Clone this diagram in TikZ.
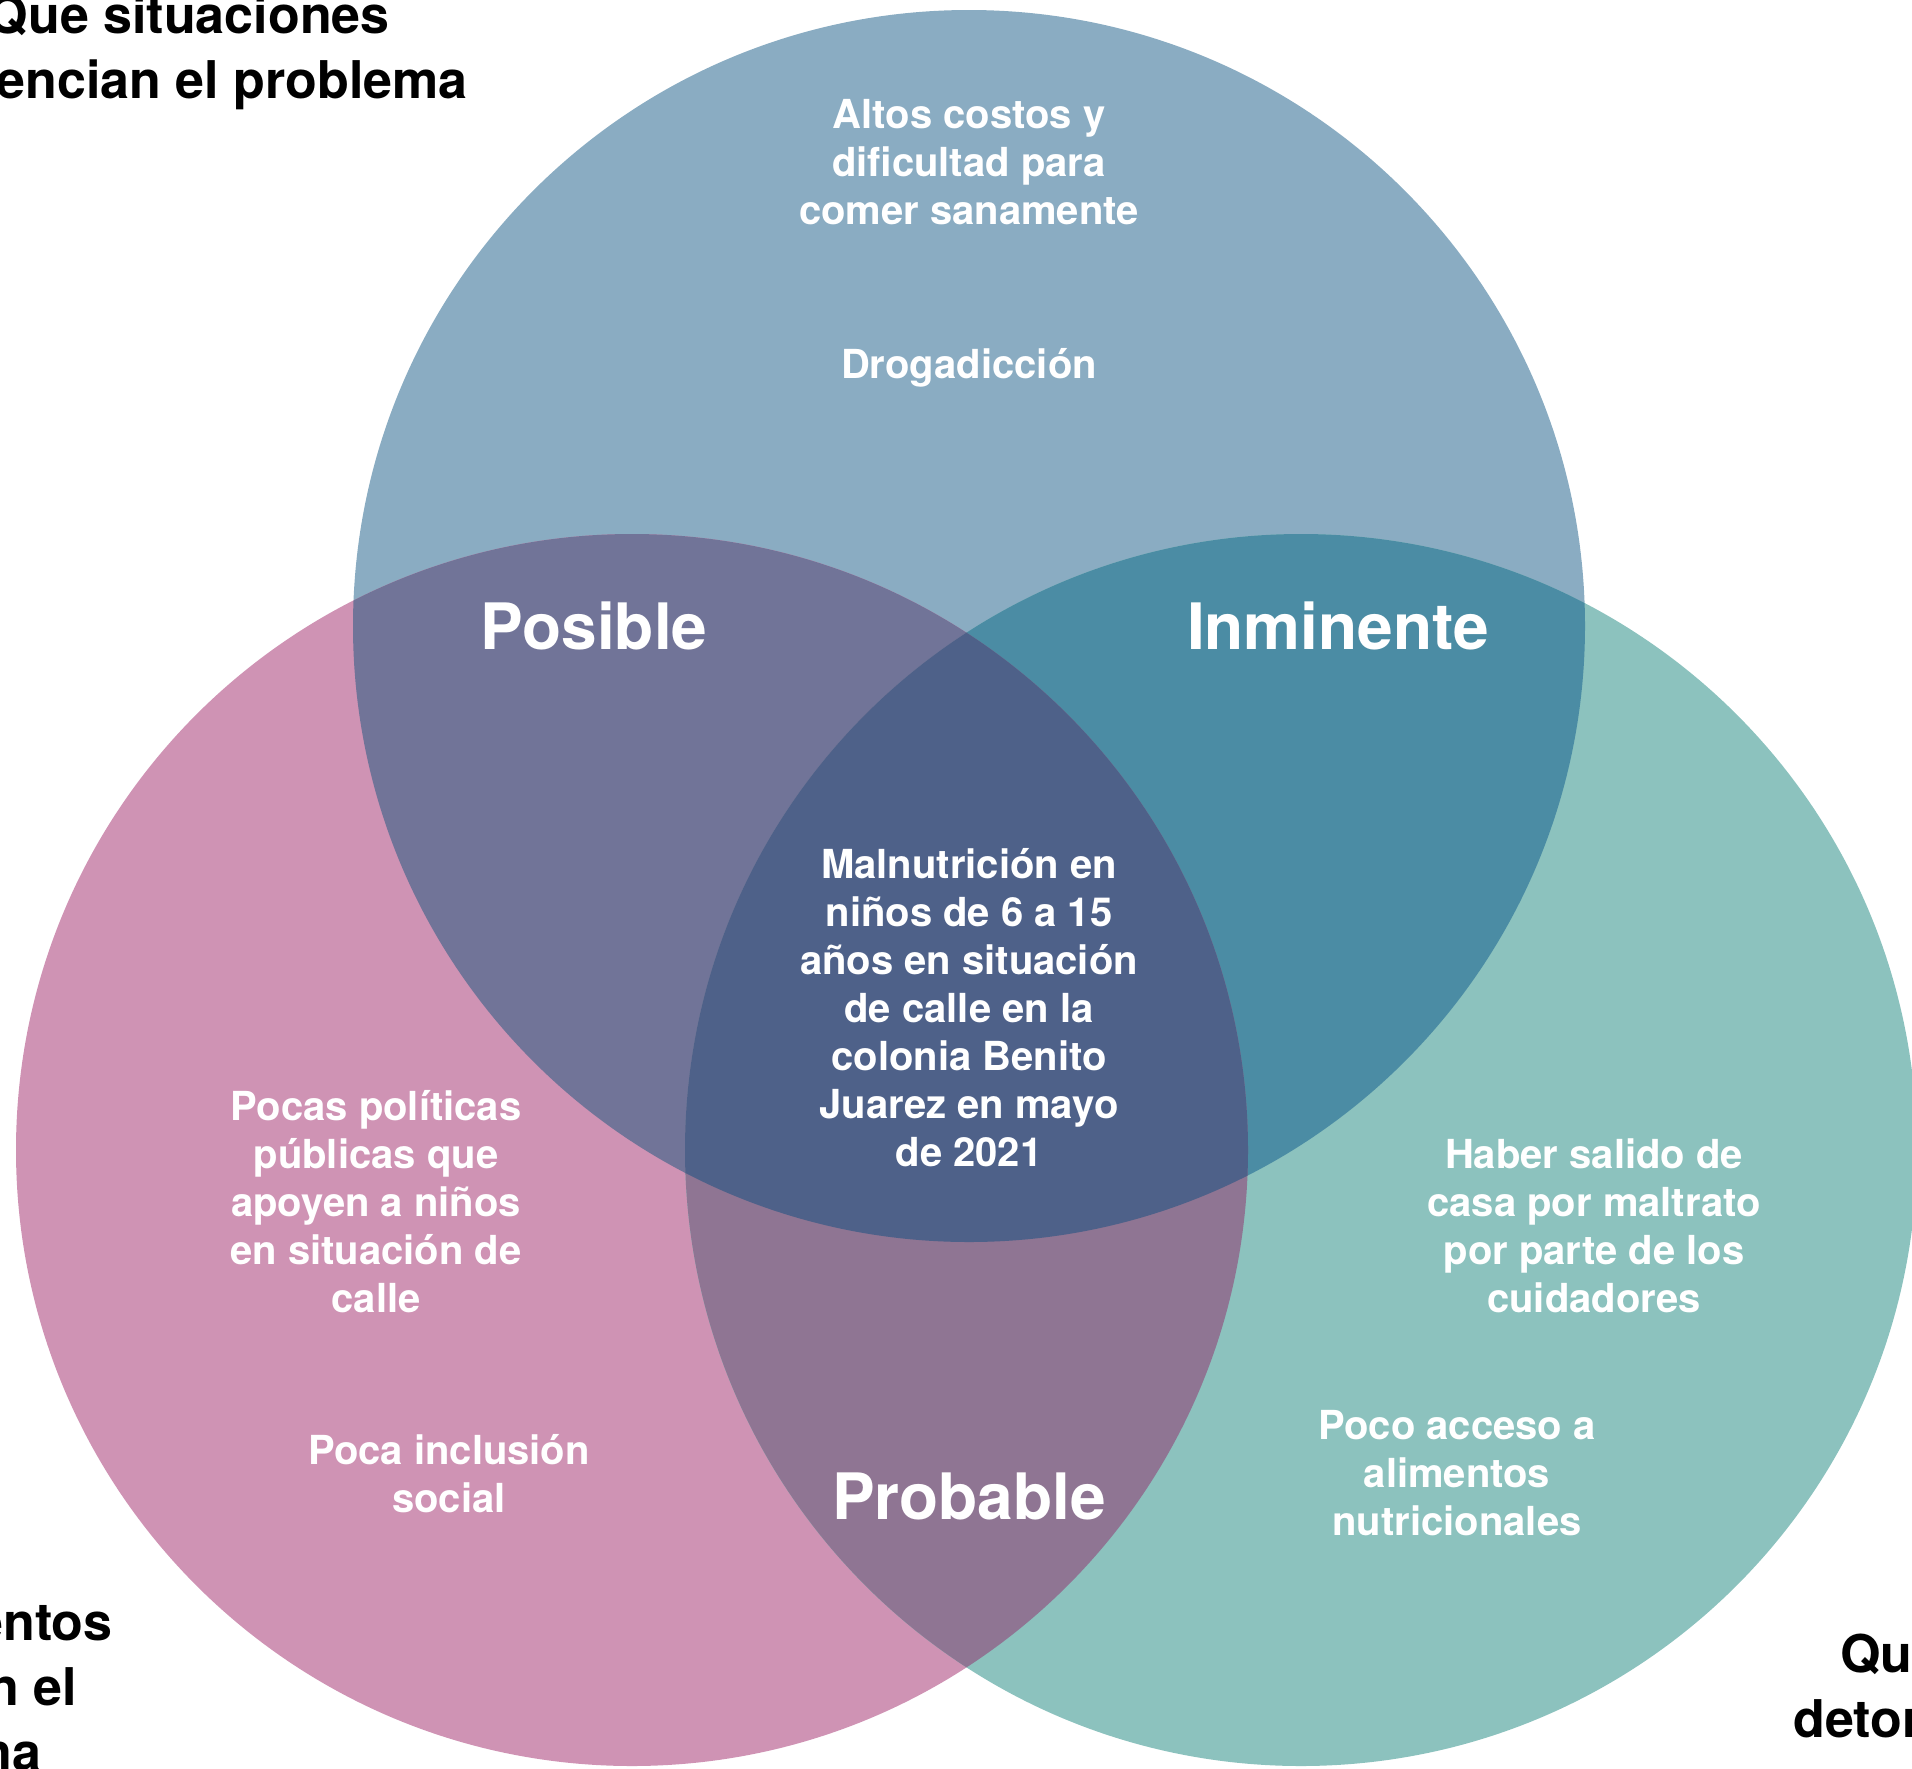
\documentclass[tikz,border=0pt]{standalone}
\usepackage{fontspec}
\setmainfont{TeX Gyre Heros}
\definecolor{cblue}{HTML}{8AACC2}
\definecolor{cpink}{HTML}{CF93B4}
\definecolor{cteal}{HTML}{8CC2BE}
\definecolor{cbp}{HTML}{717498}
\definecolor{cbt}{HTML}{4B8CA4}
\definecolor{cpt}{HTML}{8F7593}
\definecolor{cmid}{HTML}{4E6189}
\begin{document}
\begin{tikzpicture}[x=0.5pt,y=-0.5pt,
  wtxt/.style={text=white,font=\bfseries\fontsize{20pt}{24pt}\selectfont,align=center,inner sep=0pt},
  big/.style={text=white,font=\bfseries\fontsize{32pt}{38pt}\selectfont,inner sep=0pt,anchor=base},
  corner/.style={text=black,font=\bfseries\fontsize{26pt}{32.5pt}\selectfont,inner sep=0pt}]
\useasboundingbox (0,0) rectangle (1912,1768);
\coordinate (T) at (969,626);
\coordinate (L) at (632,1150);
\coordinate (R) at (1301,1150);
\def\rad{308pt}
\fill[cblue] (T) circle[radius=\rad];
\fill[cpink] (L) circle[radius=\rad];
\fill[cteal] (R) circle[radius=\rad];
\begin{scope}
  \clip (T) circle[radius=\rad];
  \fill[cbp] (L) circle[radius=\rad];
  \fill[cbt] (R) circle[radius=\rad];
\end{scope}
\begin{scope}
  \clip (L) circle[radius=\rad];
  \fill[cpt] (R) circle[radius=\rad];
\end{scope}
\begin{scope}
  \clip (T) circle[radius=\rad];
  \clip (L) circle[radius=\rad];
  \fill[cmid] (R) circle[radius=\rad];
\end{scope}
% texts
\node[wtxt] (altos) at (969,162) {Altos costos y\\dificultad para\\comer sanamente};
\node[wtxt,anchor=base] (droga) at (969,378) {Drogadicción};
\node[big] (posible) at (594,649) {Posible};
\node[big] (inminente) at (1338,649) {Inminente};
\node[big] (probable) at (969,1519) {Probable};
\node[wtxt] (centro) at (969,1008) {Malnutrición en\\niños de 6 a 15\\años en situación\\de calle en la\\colonia Benito\\Juarez en mayo\\de 2021};
\node[wtxt] (pocas) at (376,1202) {Pocas políticas\\públicas que\\apoyen a niños\\en situación de\\calle};
\node[wtxt] (inclusion) at (449,1474) {Poca inclusión\\social};
\node[wtxt] (haber) at (1594,1226) {Haber salido de\\casa por maltrato\\por parte de los\\cuidadores};
\node[wtxt] (acceso) at (1457,1473) {Poco acceso a\\alimentos\\nutricionales};
% corner labels
\node[corner,anchor=base east] (tl1) at (390,33) {Que situaciones};
\node[corner,anchor=base east] (tl2) at (468,98) {encian el problema};
\node[corner,anchor=base east] (bl1) at (113,1640) {entos};
\node[corner,anchor=base east] (bl2) at (77,1705) {n el};
\node[corner,anchor=base east] (bl3) at (42,1770) {na};
\node[corner,anchor=base west] (br1) at (1840,1672) {Que};
\node[corner,anchor=base west] (br2) at (1793,1737) {deton};
\end{tikzpicture}
\end{document}
